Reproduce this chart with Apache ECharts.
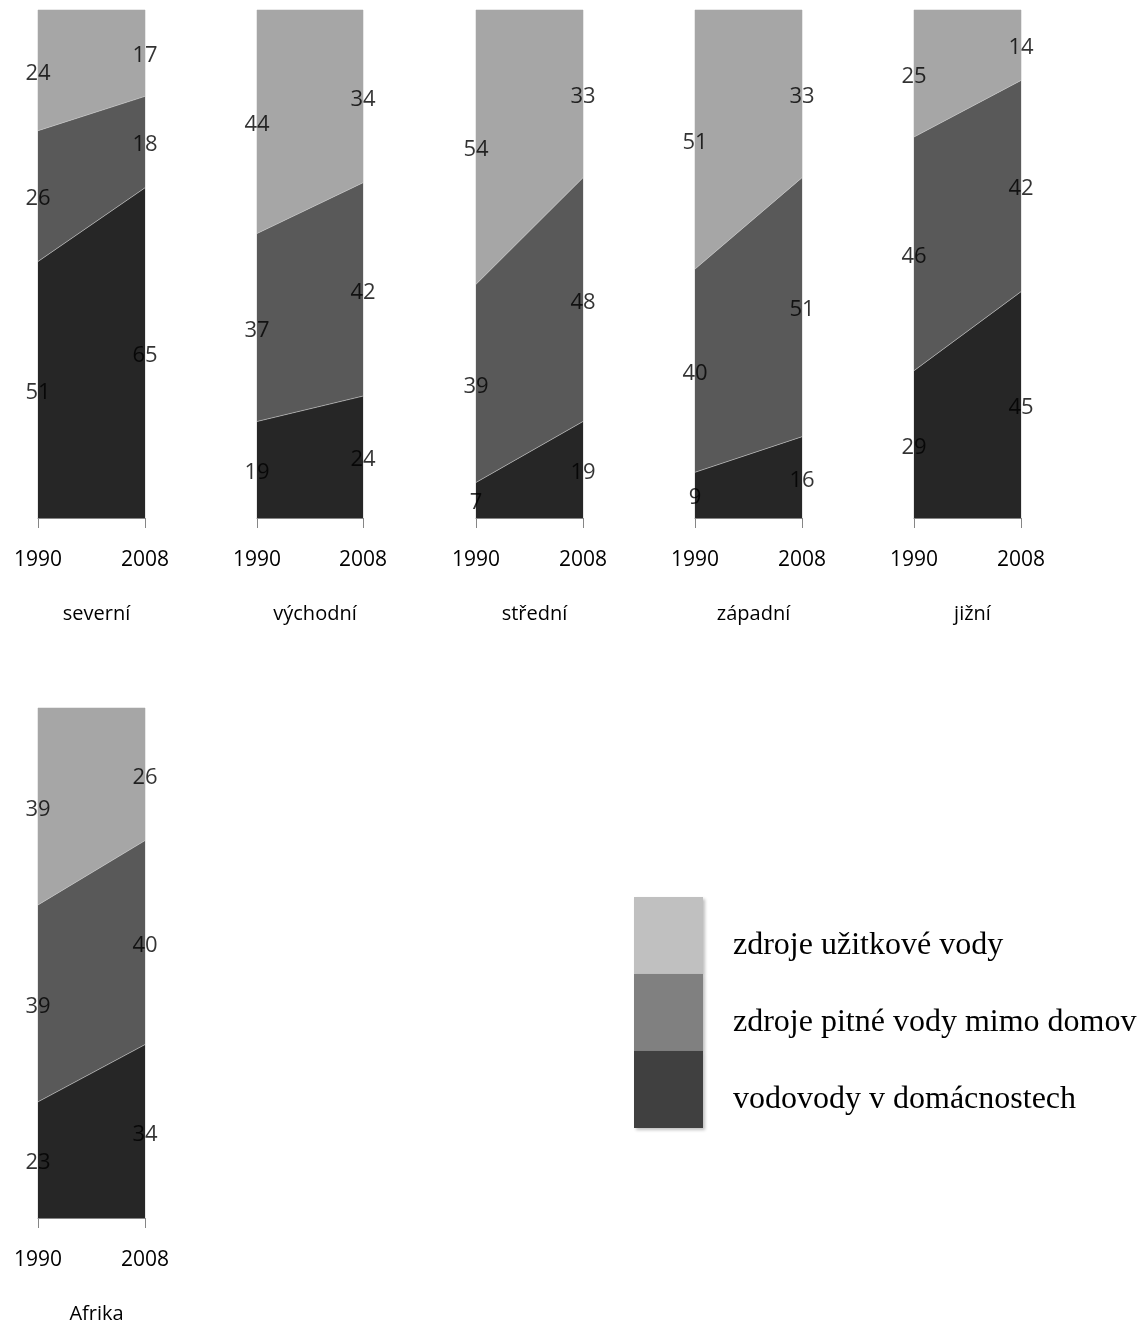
<!DOCTYPE html>
<html><head><meta charset="utf-8">
<script src="https://cdn.jsdelivr.net/npm/echarts@6/dist/echarts.min.js"></script>
<style>html,body{margin:0;padding:0;background:#fff}#c{width:1143px;height:1324px}</style>
</head><body><div id="c"></div>
<script>
const years = ['1990', '2008'];
const regions = ['severní', 'východní', 'střední', 'západní', 'jižní', 'Afrika'];
const seriesNames = ['vodovody v domácnostech', 'zdroje pitné vody mimo domov', 'zdroje užitkové vody'];
// values per region: [1990, 2008]
const homeTap = [[51, 65], [19, 24], [7, 19], [9, 16], [29, 45], [23, 34]];
const outsideDrinking = [[26, 18], [37, 42], [39, 48], [40, 51], [46, 42], [39, 40]];
const otherSources = [[24, 17], [44, 34], [54, 33], [51, 33], [25, 14], [39, 26]];

const areaColors = ['#262626', '#595959', '#a6a6a6'];
const legendColors = ['#404040', '#808080', '#c0c0c0'];
const font = '"Open Sans", "Noto Sans", sans-serif';

const panels = [
  {left: 38, width: 107, top: 10, height: 508},
  {left: 257, width: 106, top: 10, height: 508},
  {left: 476, width: 107, top: 10, height: 508},
  {left: 695, width: 107, top: 10, height: 508},
  {left: 914, width: 107, top: 10, height: 508},
  {left: 38, width: 107, top: 708, height: 510}
];

const grids = [], xAxes = [], yAxes = [], series = [], titles = [];
const allSets = [homeTap, outsideDrinking, otherSources];

regions.forEach((name, r) => {
  const p = panels[r];
  grids.push({left: p.left, top: p.top, width: p.width, height: p.height,
    show: true, borderColor: '#d0d0d0', borderWidth: 1, backgroundColor: 'transparent'});
  xAxes.push({type: 'category', gridIndex: r, data: years, boundaryGap: false,
    axisLine: {lineStyle: {color: '#868686', width: 1}},
    axisTick: {show: true, length: 10, lineStyle: {color: '#868686'}},
    axisLabel: {fontSize: 21, color: '#000', fontFamily: font, margin: 32, showMinLabel: true, showMaxLabel: true, interval: 0},
    splitLine: {show: false}});
  yAxes.push({type: 'value', gridIndex: r, min: 0, max: 100, show: false});
  titles.push({text: name, left: p.left + p.width / 2, top: p.top + p.height + 81, textAlign: 'center',
    textStyle: {fontSize: 20, fontWeight: 'normal', color: '#000', fontFamily: font}});

  const totals = years.map((y, i) => allSets.reduce((s, set) => s + set[r][i], 0));
  const cum = [0, 0];
  allSets.forEach((set, k) => {
    const pct = set[r].map((v, i) => v / totals[i] * 100);
    series.push({type: 'line', name: seriesNames[k], xAxisIndex: r, yAxisIndex: r, stack: 'p' + r,
      data: pct, symbol: 'none', lineStyle: {width: 0.6, color: k === 2 ? 'transparent' : '#c8c8c8'},
      areaStyle: {color: areaColors[k], opacity: 1}, z: 2, silent: true});
    const mids = pct.map((v, i) => cum[i] + v / 2);
    series.push({type: 'scatter', xAxisIndex: r, yAxisIndex: r, symbolSize: 0, z: 5,
      data: mids.map((m, i) => ({value: [i, m], raw: set[r][i]})),
      label: {show: true, position: 'inside', offset: [0, 3], fontSize: 22, color: '#000', fontFamily: font,
        formatter: d => String(d.data.raw)}});
    pct.forEach((v, i) => cum[i] += v);
  });
});

const legendOrder = [2, 1, 0];
const graphic = [];
legendOrder.forEach((k, j) => {
  graphic.push({type: 'rect', shape: {x: 634, y: 897 + j * 77, width: 69, height: 77},
    style: {fill: legendColors[k], shadowBlur: 3, shadowOffsetX: 2, shadowOffsetY: 2, shadowColor: 'rgba(0,0,0,0.25)'}});
});
legendOrder.forEach((k, j) => {
  graphic.push({type: 'text', x: 733, y: 946 + j * 77,
    style: {text: seriesNames[k], font: '32px "Liberation Serif", "DejaVu Serif", serif', fill: '#000', verticalAlign: 'middle'}});
});

const chart = echarts.init(document.getElementById('c'));
chart.setOption({
  animation: false,
  title: titles,
  grid: grids, xAxis: xAxes, yAxis: yAxes, series: series, graphic: graphic
});
</script></body></html>
